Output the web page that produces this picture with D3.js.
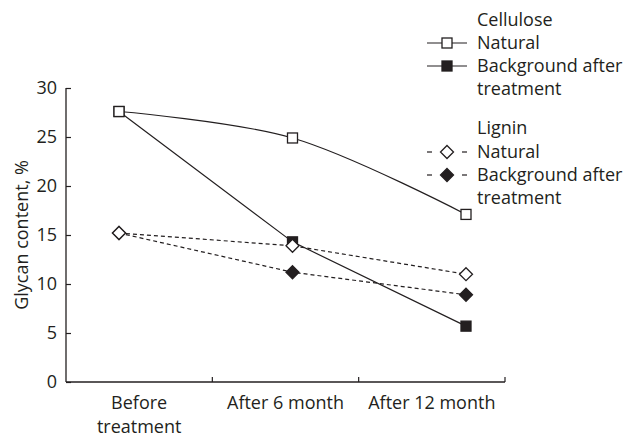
<!DOCTYPE html>
<html>
<head>
<meta charset="utf-8">
<script src="https://d3js.org/d3.v7.min.js"></script>
<style>
  body { margin: 0; background: #fff; }
  text { font-family: "Open Sans", sans-serif; fill: #231f20; }
</style>
</head>
<body>
<svg id="chart" width="633" height="437"></svg>
<script>
const svg = d3.select("#chart");

const categories = ["Before\ntreatment", "After 6 month", "After 12 month"];
const celluloseNatural = [27.6, 24.9, 17.1];
const celluloseTreated = [27.6, 14.3, 5.7];
const ligninNatural = [15.2, 13.9, 11.0];
const ligninTreated = [15.2, 11.2, 8.9];
const yTicks = [0, 5, 10, 15, 20, 25, 30];

const series = [
  { name: "Natural", values: celluloseNatural, shape: "square", fill: "#fff", dash: null, curve: d3.curveCatmullRom },
  { name: "Background after\ntreatment", values: celluloseTreated, shape: "square", fill: "#231f20", dash: null, curve: d3.curveLinear },
  { name: "Natural", values: ligninNatural, shape: "diamond", fill: "#fff", dash: "4,3", curve: d3.curveLinear },
  { name: "Background after\ntreatment", values: ligninTreated, shape: "diamond", fill: "#231f20", dash: "4,3", curve: d3.curveLinear }
];

const plotL = 66, plotR = 505, plotT = 88, plotB = 382;
const fs = "18px";

const y = d3.scaleLinear().domain([0, 30]).range([plotB, plotT]);
const xBand = d3.scaleBand().domain(categories).range([plotL, plotR]);
const x = d3.scalePoint().domain(categories).range([119, 466]);

// y axis
const yAxis = svg.append("g").attr("transform", `translate(${plotL},0)`)
  .call(d3.axisLeft(y).tickValues(yTicks).tickSize(-5).tickPadding(9));
yAxis.select(".domain").attr("stroke", "#231f20").attr("stroke-width", 1.3).attr("d", `M0,${plotB}V${plotT}`);
yAxis.selectAll(".tick line").attr("stroke", "#231f20").attr("stroke-width", 1.2);
yAxis.selectAll(".tick text").style("font-size", fs).attr("fill", "#231f20")
  .style("font-family", "'Open Sans', sans-serif");

// x axis
svg.append("line").attr("x1", plotL).attr("x2", plotR).attr("y1", plotB).attr("y2", plotB)
  .attr("stroke", "#231f20").attr("stroke-width", 1.3);
svg.selectAll(".xtick").data(categories).enter().append("line")
  .attr("x1", d => xBand(d) + xBand.bandwidth()).attr("x2", d => xBand(d) + xBand.bandwidth())
  .attr("y1", plotB).attr("y2", plotB - 5)
  .attr("stroke", "#231f20").attr("stroke-width", 1.2);
const xl = svg.selectAll(".xlabel").data(categories).enter().append("text")
  .attr("text-anchor", "middle").style("font-size", fs)
  .attr("x", d => xBand(d) + xBand.bandwidth() / 2).attr("y", 409);
xl.selectAll("tspan").data(d => d.split("\n")).enter().append("tspan")
  .attr("x", function() { return d3.select(this.parentNode).attr("x"); })
  .attr("dy", (d, i) => i ? 24 : 0).text(d => d);

// y label
svg.append("text").attr("transform", `translate(28,${(plotT + plotB) / 2}) rotate(-90)`)
  .attr("text-anchor", "middle").style("font-size", fs).text("Glycan content, %");

function marker(g, shape, fill) {
  if (shape === "square") {
    g.append("rect").attr("x", -5).attr("y", -5).attr("width", 10).attr("height", 10)
      .attr("fill", fill).attr("stroke", "#231f20").attr("stroke-width", 1.3);
  } else {
    g.append("path").attr("d", "M0,-6.5L6.5,0L0,6.5L-6.5,0Z")
      .attr("fill", fill).attr("stroke", "#231f20").attr("stroke-width", 1.3);
  }
}

// lines
series.forEach(s => {
  const line = d3.line().x((d, i) => x(categories[i])).y(d => y(d)).curve(s.curve);
  svg.append("path").datum(s.values).attr("d", line)
    .attr("fill", "none").attr("stroke", "#231f20").attr("stroke-width", 1.2)
    .attr("stroke-dasharray", s.dash);
});
// markers on top, open ones last
[1, 3, 2, 0].forEach(k => {
  const s = series[k];
  s.values.forEach((v, i) => {
    const g = svg.append("g").attr("transform", `translate(${x(categories[i])},${y(v)})`);
    marker(g, s.shape, s.fill);
  });
});

// legend
const lgX = 477, lineH = 23;
const legendRows = [
  { title: "Cellulose", y: 26 },
  { s: 0, y: 49 },
  { s: 1, y: 72 },
  { title: "Lignin", y: 134 },
  { s: 2, y: 158 },
  { s: 3, y: 181 }
];
legendRows.forEach(r => {
  if (r.title) {
    svg.append("text").attr("x", lgX).attr("y", r.y).style("font-size", fs).text(r.title);
    return;
  }
  const s = series[r.s];
  const cy = r.y - 6;
  if (s.dash) {
    [[427, 432], [462, 467]].forEach(p => svg.append("line").attr("x1", p[0]).attr("x2", p[1])
      .attr("y1", cy).attr("y2", cy).attr("stroke", "#231f20").attr("stroke-width", 1.2));
  } else {
    svg.append("line").attr("x1", 427).attr("x2", 467).attr("y1", cy).attr("y2", cy)
      .attr("stroke", "#231f20").attr("stroke-width", 1.2);
  }
  marker(svg.append("g").attr("transform", `translate(447,${cy})`), s.shape, s.fill);
  const t = svg.append("text").attr("x", lgX).attr("y", r.y).style("font-size", fs);
  t.selectAll("tspan").data(s.name.split("\n")).enter().append("tspan")
    .attr("x", lgX).attr("dy", (d, i) => i ? lineH : 0).text(d => d);
});
</script>
</body>
</html>
